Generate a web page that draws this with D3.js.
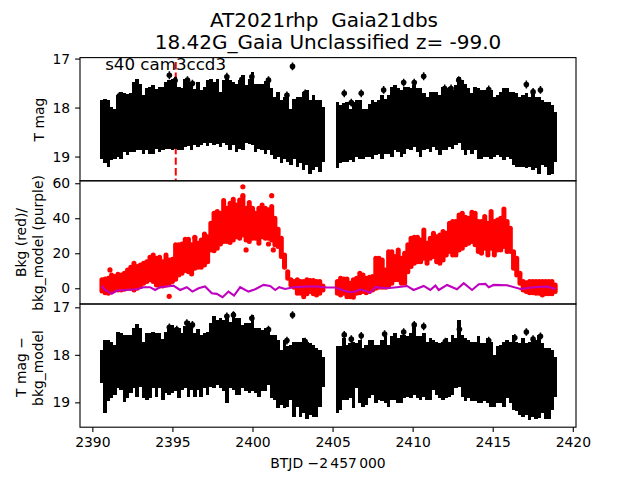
<!DOCTYPE html>
<html>
<head>
<meta charset="utf-8">
<script src="https://cdn.jsdelivr.net/npm/d3@7"></script>
<style>
  html, body { margin: 0; padding: 0; background: #fff; }
  svg { display: block; }
  text { font-family: "DejaVu Sans", sans-serif; fill: #000; white-space: pre; }
</style>
</head>
<body>
<div id="chart"></div>
<script>
// time grid, first and second half of the sector
const timeA = [2390.6,2390.8,2391.0,2391.2,2391.4,2391.6,2391.8,2392.0,2392.2,2392.4,2392.6,2392.8,2393.0,2393.2,2393.4,2393.6,2393.8,2394.0,2394.2,2394.4,2394.6,2394.8,2395.0,2395.2,2395.4,2395.6,2395.8,2396.0,2396.2,2396.4,2396.6,2396.8,2397.0,2397.2,2397.4,2397.6,2397.8,2398.0,2398.2,2398.4,2398.6,2398.8,2399.0,2399.2,2399.4,2399.6,2399.8,2400.0,2400.2,2400.4,2400.6,2400.8,2401.0,2401.2,2401.4,2401.6,2401.8,2402.0,2402.2,2402.4,2402.6,2402.8,2403.0,2403.2,2403.4,2403.6,2403.8,2404.0,2404.2,2404.4];
const timeB = [2405.3,2405.5,2405.7,2405.9,2406.1,2406.3,2406.5,2406.7,2406.9,2407.1,2407.3,2407.5,2407.7,2407.9,2408.1,2408.3,2408.5,2408.7,2408.9,2409.1,2409.3,2409.5,2409.7,2409.9,2410.1,2410.3,2410.5,2410.7,2410.9,2411.1,2411.3,2411.5,2411.7,2411.9,2412.1,2412.3,2412.5,2412.7,2412.9,2413.1,2413.3,2413.5,2413.7,2413.9,2414.1,2414.3,2414.5,2414.7,2414.9,2415.1,2415.3,2415.5,2415.7,2415.9,2416.1,2416.3,2416.5,2416.7,2416.9,2417.1,2417.3,2417.5,2417.7,2417.9,2418.1,2418.3,2418.5,2418.7,2418.9];

// T mag error bar ends
const magHiA = [17.85,17.82,17.85,17.99,18.02,17.75,17.68,17.71,17.73,17.70,17.48,17.41,17.51,17.75,17.61,17.58,17.54,17.63,17.58,17.59,17.48,17.44,17.41,17.37,17.58,17.61,17.41,17.48,17.51,17.63,17.48,17.65,17.58,17.44,17.41,17.48,17.41,17.68,17.44,17.36,17.43,17.48,17.51,17.43,17.34,17.54,17.41,17.27,17.51,17.51,17.51,17.46,17.43,17.61,17.78,17.68,17.85,17.78,17.71,18.02,17.82,17.78,17.78,17.68,17.65,17.85,17.75,17.85,17.85,17.99];
const magLoA = [19.04,19.14,19.21,19.07,19.04,19.01,19.06,18.90,18.97,18.90,18.90,18.87,18.87,18.95,18.87,18.94,18.95,18.84,18.90,18.86,18.84,18.84,18.87,18.84,18.86,18.86,18.80,18.79,18.86,18.77,18.80,18.77,18.73,18.79,18.72,18.77,18.75,18.80,18.73,18.77,18.87,18.77,18.90,18.84,18.87,18.73,18.75,18.77,18.90,18.84,18.87,18.94,18.87,18.97,19.04,19.01,19.14,19.04,19.11,19.18,19.04,19.21,19.14,19.27,19.18,19.36,19.28,19.21,19.31,19.11];
const magHiB = [17.88,17.95,17.90,17.88,18.02,17.88,17.85,17.85,18.02,18.02,17.92,17.85,17.88,17.85,17.75,17.82,17.75,17.58,17.54,17.61,17.65,17.58,17.58,17.61,17.54,17.61,17.61,17.71,17.78,17.68,17.68,17.68,17.75,17.58,17.61,17.58,17.65,17.54,17.37,17.44,17.51,17.61,17.71,17.58,17.61,17.65,17.65,17.65,17.65,17.78,17.75,17.68,17.61,17.61,17.68,17.68,17.71,17.78,17.75,17.71,17.78,17.71,17.78,17.78,17.85,17.88,17.88,17.95,18.09];
const magLoB = [19.24,19.14,19.11,19.11,19.07,19.11,19.01,19.06,19.04,19.01,19.00,19.04,18.97,18.94,19.04,18.94,18.94,19.00,18.87,18.90,19.01,18.94,18.84,18.87,18.80,18.90,19.00,18.87,18.84,18.90,18.80,18.87,18.97,18.86,18.87,18.80,18.84,18.77,18.73,18.87,18.97,18.87,18.94,18.87,19.04,19.04,19.01,19.01,19.04,19.01,18.97,19.01,19.07,19.01,19.04,19.18,19.21,19.21,19.21,19.24,19.21,19.28,19.24,19.35,19.18,19.21,19.38,19.36,19.11];
const magDotT = [2391.69,2394.81,2395.17,2395.94,2396.25,2398.4,2399.33,2399.96,2401.0,2402.15,2402.5,2403.29,2405.73,2406.17,2406.79,2408.19,2409.44,2410.1,2410.69,2412.0,2412.4,2412.88,2414.75,2417.1,2417.52,2417.98];
const magDotV = [17.76,17.34,17.45,17.44,17.51,17.37,17.43,17.37,17.44,17.75,17.16,17.71,17.71,17.9,17.71,17.64,17.49,17.49,17.36,17.61,17.61,17.44,17.63,17.53,17.68,17.64];

// background flux, red cloud limits
const bkgHiA = [4.8,5.3,5.7,7.6,6.7,8,7.6,8.6,10.5,12,14.3,12.4,13.3,14.3,15.2,17.7,19,17.1,17.7,15.2,19,16.2,16.6,24.8,24.8,25.3,28,28,24.8,28.6,25.7,27.6,31,29.5,37.1,42.9,43.8,42.9,50.1,45.7,48.6,50.9,47.6,50.5,52.4,45.7,49,45.7,42.9,45.7,47.6,45.7,44.8,46.7,40,33.7,28.6,19,9.5,4.8,3.8,4.8,3.8,3.8,4.8,4.4,4.4,3.8,3.8,1.3];
const bkgLoA = [-1.5,-2.5,-2.9,-1.9,-1,-1,-1,-0.6,0,0,-1,0,1,2.9,3.8,4.8,3.8,1.9,1.3,1.3,1.9,2.9,3.8,5.1,7.6,8.6,10.1,9.5,8.2,11.4,12,12,13.3,15.2,21.9,21.5,22.9,25.3,26.7,26.7,26.1,27.6,29.5,28.6,30.5,27.6,26.7,28.6,28.6,25.7,29.5,28.6,28.6,27.6,24.8,23.8,18.1,12,5.7,1.9,0.6,-2.9,-2.9,-4.8,-3.2,-1.9,-3.2,-3.8,-2.9,-1];
const bkgHiB = [3.8,5.7,5.3,5.3,2.9,4.8,5.7,8.6,7.6,5.7,6.3,6.7,17.1,17.1,16.2,10.5,20.9,20.9,18.1,21.9,17.1,20,24.8,28.6,29.1,29.1,27.6,33.3,25.7,28.6,31.4,29.5,30.5,32.4,31.4,37.1,38.1,38.1,41.9,42.9,40.6,40,43.4,42.9,38.1,38.1,41,37.1,43.8,38.1,39,40,45.3,38.1,34.3,20.9,17.1,8.6,3.8,3.2,3.8,3.8,3.8,3.8,3.8,3.8,3.8,3.8,1.9];
const bkgLoB = [-2.9,-3.8,-2.9,-4.8,-4.8,-5.1,-2.9,-2.5,-1.9,-2.5,-1.9,-1,0,0.6,0.6,0.6,1.3,2.9,4.8,4.8,2.9,2.9,9.5,12.4,14.3,15.2,15.2,17.1,14.3,17.1,18.1,15.2,14.3,16.2,19,21,19,19,21.9,22.9,24.8,25.7,26.7,24.8,21,20,22.9,19,22.9,19,21.9,21.9,23.8,21,21,11.4,7.6,2.9,-1,-1.9,-2.5,-2.5,-2.9,-2.9,-3.8,-3.2,-3.2,-3.2,-1.9];
const bkgDotT = [2391.1,2394.8,2399.4,2399.4,2401.2,2399.6,2401.0,2396.4,2401.3];
const bkgDotV = [10.5,-4.6,58,52.9,52.9,21.9,25.3,29.1,21.9];

// background model, purple line
const modelT = [2390.58,2390.79,2391.21,2391.52,2392.15,2392.77,2393.19,2393.6,2393.92,2394.23,2394.65,2395.06,2395.48,2395.9,2396.25,2396.63,2397.04,2397.46,2397.77,2398.13,2398.5,2398.85,2399.23,2399.75,2400.17,2400.69,2401.1,2401.42,2401.67,2402.04,2402.56,2403.4,2404.02,2404.65,2405.17,2405.69,2406.1,2406.42,2406.73,2407.36,2407.67,2408.4,2409.02,2409.65,2410.06,2410.69,2411.1,2411.42,2411.63,2412.15,2412.77,2413.19,2413.71,2414.13,2414.54,2414.75,2415.06,2415.9,2416.73,2417.56,2418.4,2418.92];
const modelV = [1.3,-1,-3.2,-1.3,-1,-0.6,0.6,0.6,-1,0.6,1,1.5,-1,0.6,-1.9,0,1,-2.9,-3.2,-5.1,-1.9,-4.2,0.6,-1.9,-0.6,1.9,1.3,-1,0.6,-0.4,0.6,1,1,0.4,0.4,-1.3,-2.3,-1.9,-0.6,-2.5,0.6,0,0.6,1.3,-1,1.3,-1,1.5,-1,1.9,-0.6,2.9,-1,2.3,2.5,0.6,1.9,1.7,-0.4,0.6,1,-0.4];

// T mag minus background model
const subHiA = [17.89,17.68,17.68,17.72,17.79,17.51,17.54,17.58,17.58,17.58,17.44,17.35,17.44,17.72,17.54,17.53,17.51,17.53,17.54,17.67,17.51,17.40,17.37,17.44,17.44,17.54,17.40,17.28,17.37,17.54,17.46,17.58,17.54,17.51,17.33,17.19,17.26,17.23,17.26,17.16,17.30,17.09,17.23,17.23,17.37,17.33,17.33,17.16,17.44,17.44,17.47,17.44,17.44,17.58,17.58,17.68,17.89,17.68,17.82,17.79,17.72,17.72,17.72,17.65,17.72,17.75,17.79,17.86,17.89,18.04];
const subLoA = [18.60,19.23,18.98,18.91,18.84,18.70,18.74,19.00,18.91,18.81,18.70,18.88,18.67,18.91,18.95,18.91,18.70,18.88,18.70,18.95,18.81,18.84,18.81,18.77,18.91,18.74,18.70,18.88,18.74,18.88,18.74,18.88,18.70,18.84,18.67,18.70,18.63,18.70,18.77,19.02,18.70,18.74,18.84,18.84,18.70,18.77,18.81,18.77,18.81,18.88,18.77,18.77,18.63,18.91,18.95,19.12,19.05,19.12,19.09,18.95,19.30,19.09,19.30,19.23,19.35,19.26,19.30,19.31,19.09,18.67];
const subHiB = [17.82,17.82,17.65,17.79,17.75,17.72,17.75,17.68,17.86,17.79,17.68,17.68,17.79,17.79,17.68,17.61,17.79,17.61,17.54,17.65,17.58,17.58,17.61,17.54,17.33,17.61,17.61,17.54,17.72,17.65,17.68,17.72,17.75,17.72,17.65,17.72,17.58,17.65,17.26,17.58,17.65,17.68,17.72,17.72,17.61,17.75,17.75,17.65,17.72,18.00,17.82,17.79,17.72,17.68,17.72,17.58,17.72,17.75,17.65,17.75,17.72,17.68,17.68,17.58,17.75,17.86,17.86,17.89,18.04];
const subLoB = [19.23,19.16,18.95,18.95,18.91,19.12,18.70,19.02,19.09,19.05,18.91,18.84,19.02,18.95,18.98,19.02,19.09,18.95,18.95,19.02,19.02,18.91,18.88,18.91,18.84,18.91,18.95,18.88,18.95,18.95,18.74,18.84,18.91,18.95,18.91,18.88,18.84,18.70,18.68,18.88,18.98,18.91,18.98,18.98,19.02,19.02,18.98,19.02,19.09,19.10,19.02,19.02,19.09,18.91,19.02,19.16,19.19,19.26,19.30,19.26,19.37,19.30,19.35,19.33,19.23,19.35,19.35,19.16,18.88];
const subDotT = [2391.69,2394.81,2395.27,2395.9,2396.25,2398.4,2398.81,2399.96,2401.0,2402.15,2402.5,2403.29,2405.73,2406.17,2406.79,2408.25,2409.44,2410.1,2410.69,2412.04,2412.92,2414.75,2416.38,2417.1,2417.52,2417.98];
const subDotV = [17.63,17.42,17.47,17.33,17.37,17.19,17.16,17.23,17.47,17.70,17.16,17.72,17.58,17.67,17.6,17.56,17.52,17.37,17.4,17.72,17.46,17.7,17.64,17.52,17.67,17.61];

const markT = 2395.21;
const xTicks = [2390,2395,2400,2405,2410,2415,2420];
const magTicks = [17,18,19];
const bkgTicks = [0,20,40,60];

const WIDTH = 640, HEIGHT = 480;
const LEFT = 80, RIGHT = 576;
const PANEL_H = 123.2;
const TOPS = [57.6, 180.8, 304];

const svg = d3.select("#chart").append("svg")
  .attr("width", WIDTH).attr("height", HEIGHT);

const x = d3.scaleLinear().domain([2389.23, 2420.2]).range([LEFT, RIGHT]);
const yMag = d3.scaleLinear().domain([16.98, 19.495]).range([TOPS[0], TOPS[0] + PANEL_H]);
const yBkg = d3.scaleLinear().domain([61.4, -9]).range([TOPS[1], TOPS[1] + PANEL_H]);
const ySub = d3.scaleLinear().domain([16.93, 19.523]).range([TOPS[2], TOPS[2] + PANEL_H]);

function zipBars(t, hi, lo) {
  return t.map((d, i) => ({ t: d, hi: hi[i], lo: lo[i] }));
}

function addPanel(i) {
  svg.append("clipPath").attr("id", "clip" + i).append("rect")
    .attr("x", LEFT).attr("y", TOPS[i]).attr("width", RIGHT - LEFT).attr("height", PANEL_H);
  return svg.append("g").attr("clip-path", `url(#clip${i})`);
}

function drawMag(g, y, bars, dotT, dotV) {
  g.append("g").selectAll("line").data(bars).join("line")
    .attr("x1", d => x(d.t)).attr("x2", d => x(d.t))
    .attr("y1", d => y(d.hi)).attr("y2", d => y(d.lo))
    .attr("stroke", "#000").attr("stroke-width", 3.5)
    .attr("shape-rendering", "crispEdges");
  const dots = dotT.map((d, i) => ({ t: d, v: dotV[i] }));
  g.append("g").selectAll("circle").data(dots).join("circle")
    .attr("cx", d => x(d.t)).attr("cy", d => y(d.v)).attr("r", 2.8).attr("fill", "#000");
  g.append("g").selectAll("line").data(dots).join("line")
    .attr("x1", d => x(d.t)).attr("x2", d => x(d.t))
    .attr("y1", d => y(d.v - 0.08)).attr("y2", d => y(d.v + 0.08))
    .attr("stroke", "#000").attr("stroke-width", 1.5);
}

// top panel
const g1 = addPanel(0);
g1.append("line")
  .attr("x1", x(markT)).attr("x2", x(markT))
  .attr("y1", yMag(17.07)).attr("y2", yMag(19.5))
  .attr("stroke", "#f00").attr("stroke-width", 2).attr("stroke-dasharray", "7.4,3.2");
drawMag(g1, yMag, zipBars(timeA, magHiA, magLoA).concat(zipBars(timeB, magHiB, magLoB)), magDotT, magDotV);

// middle panel
const g2 = addPanel(1);
g2.append("g").selectAll("line")
  .data(zipBars(timeA, bkgHiA, bkgLoA).concat(zipBars(timeB, bkgHiB, bkgLoB))).join("line")
  .attr("x1", d => x(d.t)).attr("x2", d => x(d.t))
  .attr("y1", d => yBkg(d.hi)).attr("y2", d => yBkg(d.lo))
  .attr("stroke", "#f00").attr("stroke-width", 5).attr("stroke-linecap", "round");
g2.append("g").selectAll("circle").data(bkgDotT).join("circle")
  .attr("cx", d => x(d)).attr("cy", (d, i) => yBkg(bkgDotV[i])).attr("r", 2.6).attr("fill", "#f00");
g2.append("path")
  .datum(modelT)
  .attr("fill", "none").attr("stroke", "#bf00bf").attr("stroke-width", 2.1)
  .attr("d", d3.line().x(d => x(d)).y((d, i) => yBkg(modelV[i])));

// bottom panel
const g3 = addPanel(2);
drawMag(g3, ySub, zipBars(timeA, subHiA, subLoA).concat(zipBars(timeB, subHiB, subLoB)), subDotT, subDotV);

// axes
function styleAxis(sel) {
  sel.selectAll("path,line").attr("stroke", "#000").attr("stroke-width", 1.1);
  sel.selectAll("text").attr("font-size", 13.9).attr("font-family", "DejaVu Sans").attr("fill", "#000");
}

function addFrame(i, y, ticks) {
  svg.append("rect")
    .attr("x", LEFT).attr("y", TOPS[i]).attr("width", RIGHT - LEFT).attr("height", PANEL_H)
    .attr("fill", "none").attr("stroke", "#000").attr("stroke-width", 1.1);
  svg.append("g")
    .attr("transform", `translate(${LEFT},0)`)
    .call(d3.axisLeft(y).tickValues(ticks).tickFormat(d3.format("d")).tickSize(4.9).tickPadding(4.9))
    .call(styleAxis)
    .call(s => s.select(".domain").remove());
}
addFrame(0, yMag, magTicks);
addFrame(1, yBkg, bkgTicks);
addFrame(2, ySub, magTicks);

svg.append("g")
  .attr("transform", `translate(0,${TOPS[2] + PANEL_H})`)
  .call(d3.axisBottom(x).tickValues(xTicks).tickFormat(d3.format("d")).tickSize(4.9).tickPadding(4.9))
  .call(styleAxis)
  .call(s => s.select(".domain").remove());

// labels
function addText(str, px, py, size, rotate) {
  svg.append("text")
    .attr("transform", `translate(${px},${py})` + (rotate ? " rotate(-90)" : ""))
    .attr("text-anchor", "middle").attr("font-size", size).text(str);
}
addText("AT2021rhp  Gaia21dbs", 324, 27, 20);
addText("18.42G_Gaia Unclassified z= -99.0", 328, 49, 20);
addText("BTJD \u22122\u2006457\u2006000", 328, 468, 13.9);
addText("T mag", 43.5, 119.5, 13.9, true);
addText("Bkg (red)/", 25.5, 242.5, 13.9, true);
addText("bkg_model (purple)", 43.3, 243, 13.9, true);
addText("T mag \u2212", 25.5, 367, 13.9, true);
addText("bkg_model", 43.3, 368, 13.9, true);

svg.append("text")
  .attr("x", x(2390.8)).attr("y", yMag(17.24))
  .attr("font-size", 16.67).text("s40 cam3ccd3");
</script>
</body>
</html>
